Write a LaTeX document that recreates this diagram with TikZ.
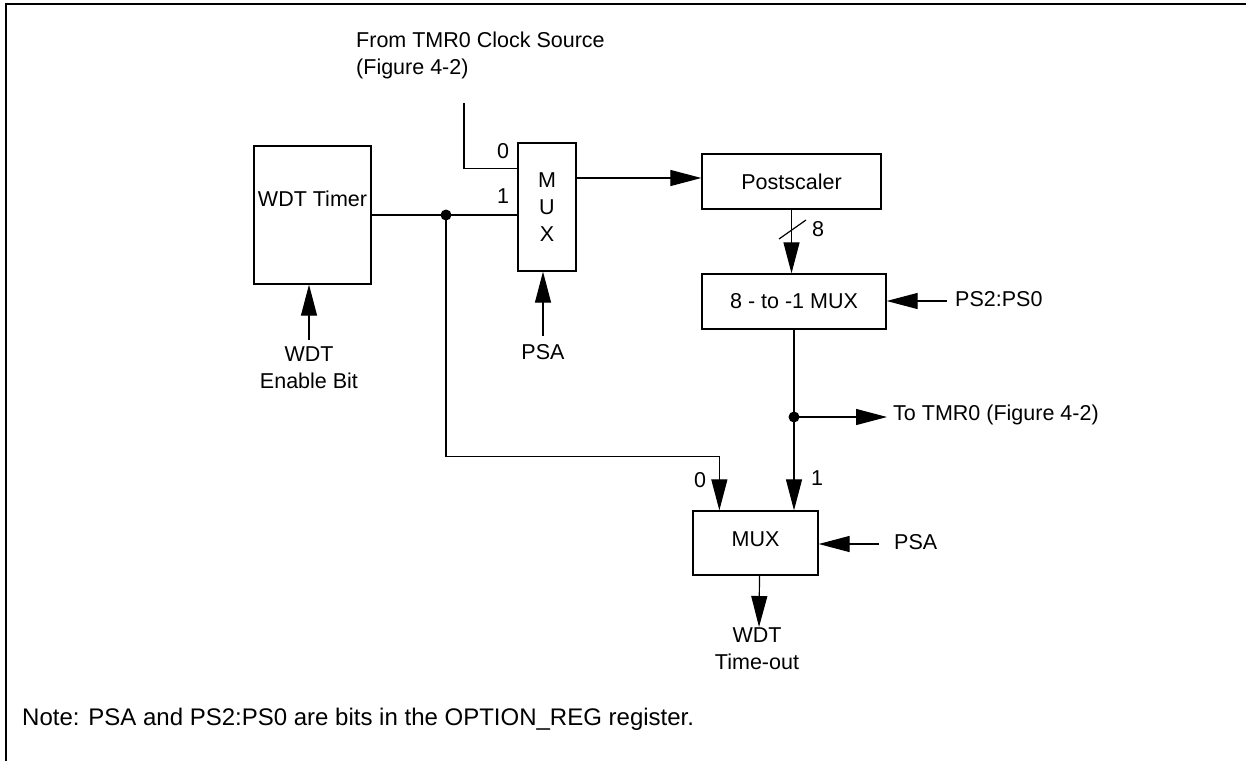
\documentclass[tikz,border=0pt]{standalone}
\usepackage{fontspec}
\setmainfont{Liberation Sans}
\usetikzlibrary{arrows.meta,calc}
\begin{document}
\begin{tikzpicture}[x=1pt,y=-1pt,
  every node/.style={font=\fontsize{21.5}{27}\selectfont, inner sep=0pt},
  blk/.style={draw, line width=1.3pt, inner sep=0pt},
  wire/.style={line width=1.2pt},
  arr/.style={wire, -{Triangle[length=31pt,width=16pt]}},
  junc/.style={circle, fill, inner sep=0pt, minimum size=11pt}]
\useasboundingbox (0,0) rectangle (1246,761);
\draw[line width=2.2pt] (6,761) -- (6,4) -- (1246,4);

% blocks
\node[blk, minimum width=117pt, minimum height=138pt] (wdt) at (312.5,215) {};
\node (wdttxt) at (312.5,199) {WDT Timer};
\node[blk, minimum width=58pt, minimum height=128pt, align=center] (mux1) at (547,207) {M\\U\\X};
\node[blk, minimum width=179pt, minimum height=55pt] (post) at (791.5,181.5) {Postscaler};
\node[blk, minimum width=184pt, minimum height=55pt] (mux8) at (794,301.5) {8 - to -1 MUX};
\node[blk, minimum width=125pt, minimum height=64pt] (mux2) at (755.5,543) {};
\node (mux2txt) at (755.5,539) {MUX};

% labels
\node[anchor=north west, align=left] (srctxt) at (356,32) {From TMR0 Clock Source\\(Figure 4-2)};
\node (l0a) at (503,151) {0};
\node (l1a) at (503,196) {1};
\node[align=center, anchor=north] (wdten) at (309,346) {WDT\\Enable Bit};
\node[anchor=north] (psa1) at (543,344) {PSA};
\node (l8) at (818,229) {8};
\node[anchor=west] (ps2) at (955,299) {PS2:PS0};
\node[anchor=west] (totmr) at (893,415) {To TMR0 (Figure 4-2)};
\node (l0b) at (700,480) {0};
\node (l1b) at (817,478) {1};
\node[anchor=west] (psa2) at (894,542) {PSA};
\node[align=center, anchor=north] (wdtto) at (757,627) {WDT\\Time-out};
\node[anchor=west, font=\fontsize{24}{28}\selectfont] (note) at (22,719) {Note: PSA and PS2:PS0 are bits in the OPTION\_REG register.};

% coordinates
\coordinate (src) at (464,103);
\coordinate (j1) at (446,215);
\coordinate (j2) at (794,417);
\coordinate (m2in0) at ($(mux2.north west)+(27,0)$);

% connectors
\draw[wire] (src) |- ($(mux1.north west)+(0,26)$);
\draw[wire] (wdt.east) -- (wdt.east -| mux1.west);
\draw[arr] (wdten.north) ++(0,-6) -- (wdten.north |- wdt.south);
\draw[arr] (psa1.north) ++(0,-8) -- (psa1.north |- mux1.south);
\draw[arr] (mux1.east |- 0,178) -- (post.west |- 0,178);
\draw[arr] (post.south) -- (post.south |- mux8.north);
\draw[wire] (779,239) -- (806,220);
\draw[arr] ($(ps2.west)+(-8,2)$) -- (mux8.east |- 0,301);
\draw[wire] (j1) |- ($(m2in0)+(0,-54)$);
\draw[arr] ($(m2in0)+(0,-54)$) -- (m2in0);
\draw[arr] (mux8.south) -- (mux8.south |- mux2.north);
\draw[arr] (j2) -- ($(totmr.west)+(-6,2)$);
\draw[arr] ($(psa2.west)+(-15,2)$) -- (mux2.east |- 0,544);
\draw[arr] (mux2.south) ++(4,0) -- ($(wdtto.north)+(2,0)$);

\node[junc] (dot1) at (j1) {};
\node[junc] (dot2) at (j2) {};
\end{tikzpicture}
\end{document}
